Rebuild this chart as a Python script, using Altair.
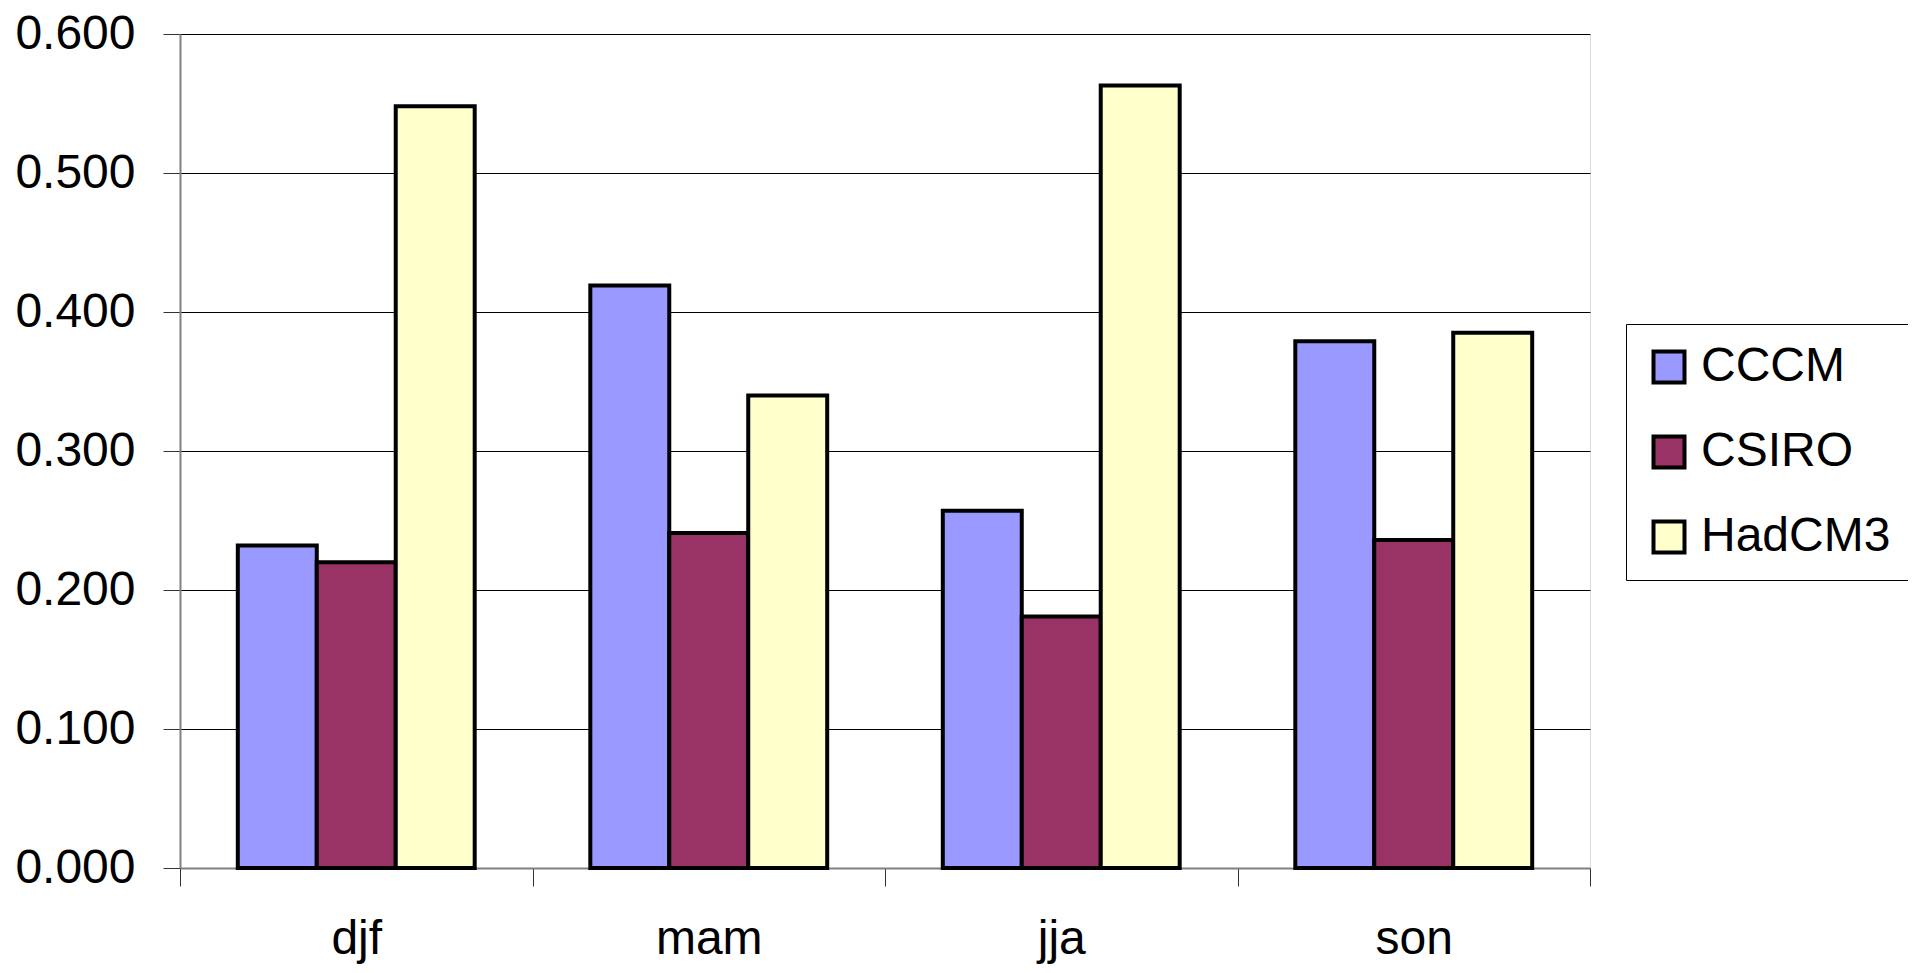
import altair as alt
import pandas as pd

seasons = ["djf", "mam", "jja", "son"]
models = ["CCCM", "CSIRO", "HadCM3"]
colors = ["#9999FF", "#993366", "#FFFFCC"]

cccm = [0.232, 0.419, 0.257, 0.379]
csiro = [0.220, 0.241, 0.181, 0.236]
hadcm3 = [0.548, 0.340, 0.563, 0.385]

y_ticks = [0.0, 0.1, 0.2, 0.3, 0.4, 0.5, 0.6]

rows = []
for m, vals in zip(models, [cccm, csiro, hadcm3]):
    for s, v in zip(seasons, vals):
        rows.append({"season": s, "model": m, "value": v})
df = pd.DataFrame(rows)

FONT = "Liberation Sans"

chart = alt.Chart(df).mark_bar(stroke="black", strokeWidth=4, opacity=1).encode(
    x=alt.X(
        "season:N",
        sort=seasons,
        scale=alt.Scale(paddingInner=0, paddingOuter=0),
        axis=alt.Axis(
            title=None, labelAngle=0, tickBand="extent", tickSize=18,
            labelFontSize=48, labelFont=FONT, labelColor="black", labelPadding=29,
            domainColor="#808080", domainWidth=2, tickColor="#333333", tickWidth=1,
            grid=False,
        ),
    ),
    xOffset=alt.XOffset("model:N", sort=models, scale=alt.Scale(paddingInner=0, paddingOuter=0.732)),
    y=alt.Y(
        "value:Q",
        scale=alt.Scale(domain=[0, 0.6], nice=False),
        axis=alt.Axis(
            title=None, values=y_ticks, format=".3f", tickSize=17,
            labelFontSize=48, labelFont=FONT, labelColor="black", labelPadding=28,
            domainColor="#808080", domainWidth=2, tickColor="#333333", tickWidth=1,
            grid=True, gridColor="black", gridWidth=1,
        ),
    ),
    color=alt.Color(
        "model:N",
        sort=models,
        scale=alt.Scale(domain=models, range=colors),
        legend=alt.Legend(
            title=None, orient="none", legendX=1446, legendY=290,
            symbolType="square", symbolSize=961, symbolStrokeWidth=4,
            symbolStrokeColor="black", symbolOpacity=1,
            labelFontSize=48, labelFont=FONT, labelColor="black", labelOffset=8,
            labelLimit=400, rowPadding=37, padding=19,
            strokeColor="black", fillColor="white",
        ),
    ),
).properties(
    width=1410,
    height=834,
    padding={"left": 172, "top": 26, "right": 318, "bottom": 97},
    autosize=alt.AutoSizeParams(type="none"),
).configure_view(
    fill="#C0C0C0", stroke="#808080", strokeWidth=3
).configure(font=FONT, background="white")

chart.save("out.html", embed_options={"renderer": "svg", "actions": False})
